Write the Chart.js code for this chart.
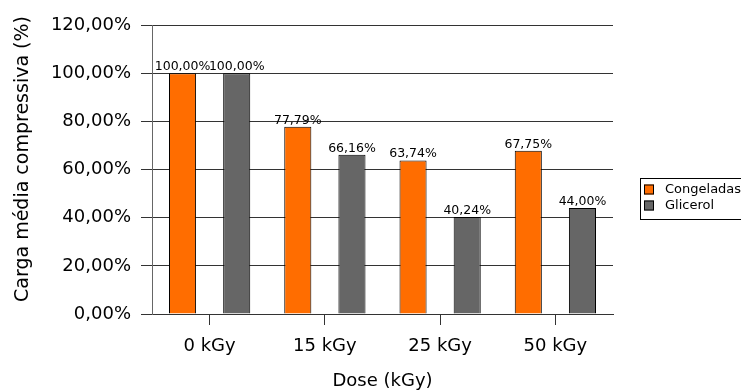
<!DOCTYPE html>
<html>
<head>
<meta charset="utf-8">
<script src="https://cdn.jsdelivr.net/npm/chart.js@4/dist/chart.umd.min.js"></script>
<style>
  html, body { margin: 0; padding: 0; background: #fff; }
  #wrap { width: 741px; height: 392px; }
</style>
</head>
<body>
<div id="wrap"><canvas id="myChart" width="741" height="392"></canvas></div>
<script>
var categories = ['0 kGy', '15 kGy', '25 kGy', '50 kGy'];
var congeladas = [100.00, 77.79, 63.74, 67.75];
var glicerol = [100.00, 66.16, 40.24, 44.00];
var seriesNames = ['Congeladas', 'Glicerol'];
var seriesColors = ['#ff6d00', '#666666'];
var yTitle = 'Carga média compressiva (%)';
var xTitle = 'Dose (kGy)';

function pct(v) {
    return v.toFixed(2).replace('.', ',') + '%';
}

// labels over each bar
var barLabels = {
    id: 'barLabels',
    afterDatasetsDraw: function(chart) {
        var ctx = chart.ctx;
        ctx.save();
        ctx.font = '12.5px "DejaVu Sans"';
        ctx.fillStyle = '#000';
        ctx.textAlign = 'center';
        ctx.textBaseline = 'alphabetic';
        chart.data.datasets.forEach(function(ds, i) {
            var meta = chart.getDatasetMeta(i);
            meta.data.forEach(function(bar, j) {
                ctx.fillText(pct(ds.data[j]), bar.x, bar.y - 3);
            });
        });
        ctx.restore();
    }
};

// y title and legend box on the right
var sideLegend = {
    id: 'sideLegend',
    afterDraw: function(chart) {
        var ctx = chart.ctx;
        ctx.save();
        ctx.translate(23, 159);
        ctx.rotate(-Math.PI / 2);
        ctx.font = '19px "DejaVu Sans"';
        ctx.fillStyle = '#000';
        ctx.textAlign = 'center';
        ctx.textBaseline = 'middle';
        ctx.fillText(yTitle, 0, 0);
        ctx.restore();

        ctx.save();
        ctx.strokeStyle = '#000';
        ctx.lineWidth = 1;
        ctx.strokeRect(640.5, 178.5, 110, 41);
        ctx.font = '13px "DejaVu Sans"';
        ctx.textAlign = 'left';
        ctx.textBaseline = 'middle';
        chart.data.datasets.forEach(function(ds, i) {
            var y = 189.5 + i * 16;
            ctx.fillStyle = ds.backgroundColor;
            ctx.fillRect(644, y - 5, 10, 10);
            ctx.strokeRect(644.5, y - 4.5, 9, 9);
            ctx.fillStyle = '#000';
            ctx.fillText(ds.label, 665, y);
        });
        ctx.restore();
    }
};

var ctx = document.getElementById('myChart').getContext('2d');
var myChart = new Chart(ctx, {
    type: 'bar',
    data: {
        labels: categories,
        datasets: [{
            label: seriesNames[0],
            data: congeladas,
            backgroundColor: seriesColors[0],
            borderColor: '#000',
            borderWidth: 1
        }, {
            label: seriesNames[1],
            data: glicerol,
            backgroundColor: seriesColors[1],
            borderColor: '#000',
            borderWidth: 1
        }]
    },
    options: {
        responsive: false,
        animation: false,
        categoryPercentage: 0.94,
        barPercentage: 0.5,
        layout: { padding: { top: 25, right: 128, bottom: 0, left: 0 } },
        plugins: {
            legend: { display: false },
            tooltip: { enabled: false }
        },
        scales: {
            x: {
                grid: { offset: false, drawOnChartArea: false, color: '#333', tickLength: 11 },
                border: { color: '#333' },
                ticks: { color: '#000', font: { family: 'DejaVu Sans', size: 18 }, padding: 11 },
                title: { display: true, text: xTitle, color: '#000',
                         font: { family: 'DejaVu Sans', size: 18 }, padding: { top: 4, bottom: 0 } },
                afterFit: function(scale) { scale.height = 78; }
            },
            y: {
                min: 0,
                max: 120,
                ticks: { stepSize: 20, color: '#000', font: { family: 'DejaVu Sans', size: 18 },
                         padding: 10, callback: function(v) { return pct(v); } },
                grid: { color: '#333', tickLength: 11 },
                border: { color: '#666' },
                afterFit: function(scale) { scale.width = 152; }
            }
        }
    },
    plugins: [barLabels, sideLegend]
});
</script>
</body>
</html>
